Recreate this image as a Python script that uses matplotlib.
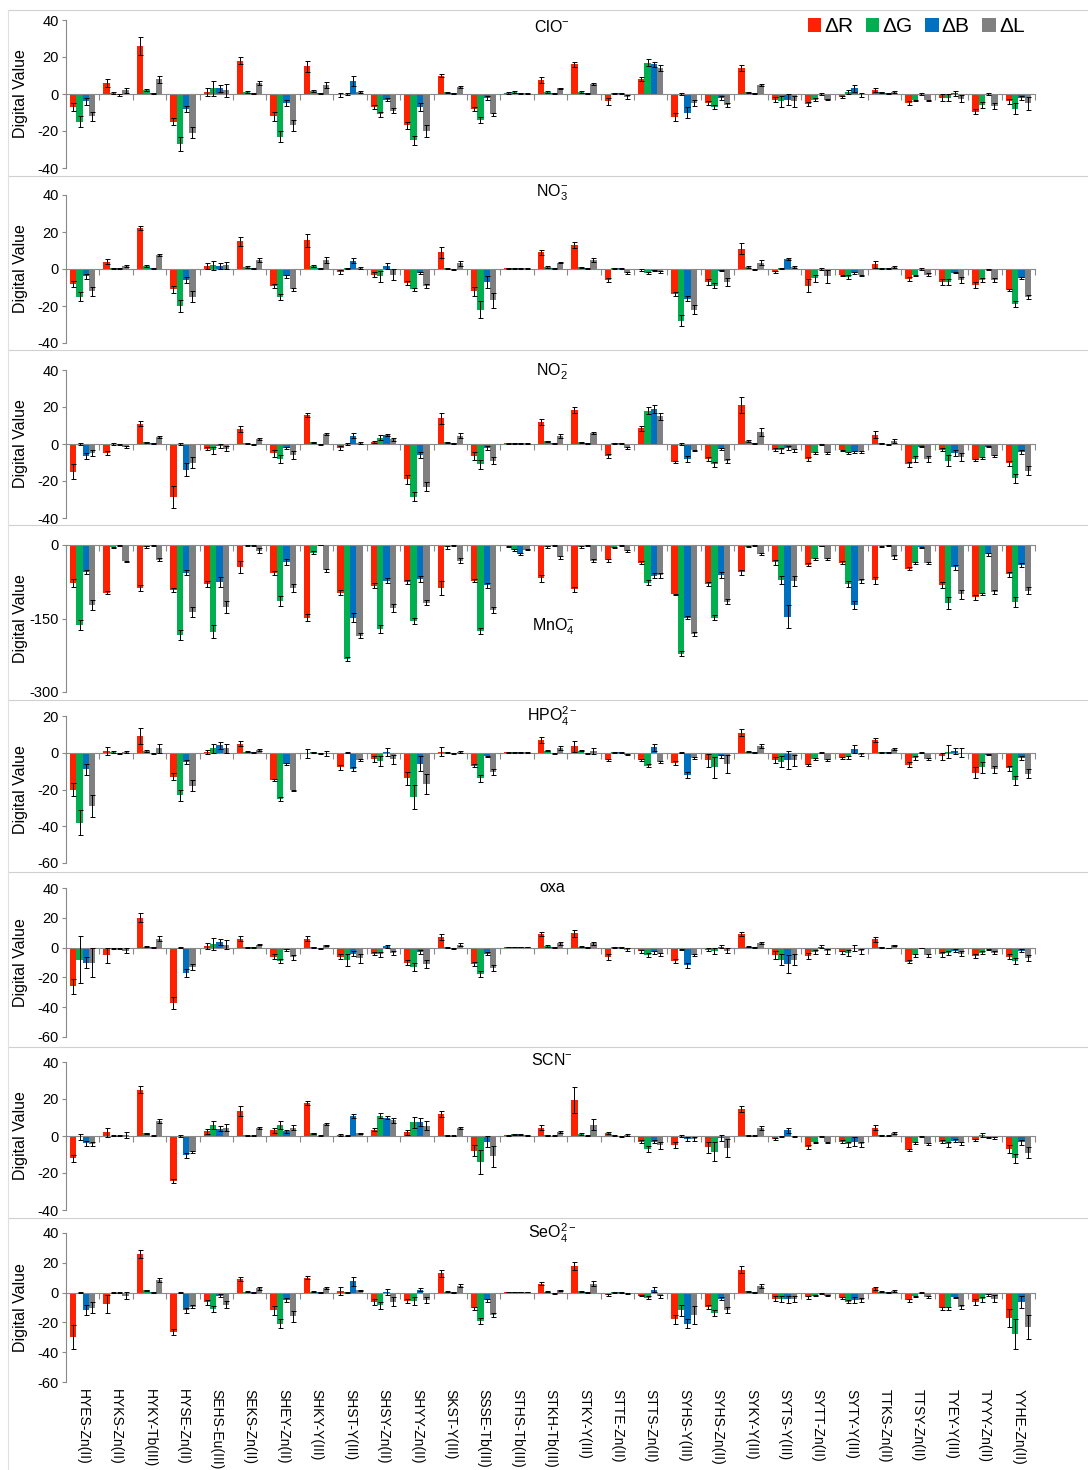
import numpy as np
import matplotlib
matplotlib.use('Agg')
import matplotlib.pyplot as plt
from matplotlib.lines import Line2D

plt.rcParams['font.family'] = ['Liberation Sans', 'DejaVu Sans']
plt.rcParams['mathtext.fontset'] = 'custom'
plt.rcParams['mathtext.rm'] = 'Liberation Sans'
plt.rcParams['mathtext.it'] = 'Liberation Sans:italic'
plt.rcParams['mathtext.default'] = 'regular'
plt.rcParams['axes.unicode_minus'] = False

sensors = ['HYES-Zn(II)', 'HYKS-Zn(II)', 'HYKY-Tb(III)', 'HYSE-Zn(II)', 'SEHS-Eu(III)',
           'SEKS-Zn(II)', 'SHEY-Zn(II)', 'SHKY-Y(III)', 'SHST-Y(III)', 'SHSY-Zn(II)',
           'SHYY-Zn(II)', 'SKST-Y(III)', 'SSSE-Tb(III)', 'STHS-Tb(III)', 'STKH-Tb(III)',
           'STKY-Y(III)', 'STTE-Zn(II)', 'STTS-Zn(II)', 'SYHS-Y(III)', 'SYHS-Zn(II)',
           'SYKY-Y(III)', 'SYTS-Y(III)', 'SYTT-Zn(II)', 'SYTY-Y(III)', 'TTKS-Zn(II)',
           'TTSY-Zn(II)', 'TYEY-Y(III)', 'TYYY-Zn(II)', 'YYHE-Zn(II)']
channels = ['ΔR', 'ΔG', 'ΔB', 'ΔL']
colors = ['#FF2200', '#00B050', '#0070C0', '#808080']

# ClO-
clo_r = [-7, 6, 26, -15, 1, 18, -12, 15, -0.5, -7, -17, 10, -8, 0.5, 7.5, 16, -4, 8, -12.5, -5, 14, -3, -5.5, -1.5, 2, -5, -2, -9.5, -4]
clo_g = [-15, 0.5, 2, -27, 3, 1, -23, 1.5, 0, -11, -25, 1, -14, 1, 1, 1, 0.3, 17, 0, -7, 1, -4, -3, 1, 1, -3.5, -2, -6, -8]
clo_b = [-4, -0.5, 0.3, -8, 3, 0.3, -5, 0.3, 7, -3, -7, 0.3, -2, 0.5, 0.3, 0.3, 0.5, 16, -10, -2, 0.3, -3, 0, 3, 0.3, 0, 0.3, 0, -2]
clo_l = [-12, 2, 8, -21, 2, 6, -17, 5, 1, -9, -20, 4, -11, 0.5, 3, 5.5, -1.5, 14, -5, -6, 5, -4, -3, -0.5, 1, -3.5, -2.5, -6.5, -5]
clo_re = [2, 2, 5, 2, 2, 2, 2.5, 3, 1, 1, 2, 1, 1, 0.5, 1.5, 1.5, 2, 1, 2, 1, 1.5, 1.5, 1, 0.5, 1, 1, 2, 1.5, 1.5]
clo_ge = [3, 0.5, 0.5, 4, 4, 0.5, 3, 0.5, 0.3, 1.5, 2.5, 0.3, 1.5, 0.5, 0.5, 0.5, 0.3, 2, 0.3, 1, 0.3, 3, 1, 1, 0.3, 0.5, 2, 1.5, 3]
clo_be = [2, 0.5, 0.3, 1.5, 2, 0.3, 1.5, 0.3, 2.5, 1, 2, 0.3, 1, 0.3, 0.3, 0.3, 0.3, 1.5, 3, 1, 0.3, 3, 0.3, 2, 0.3, 0.3, 1.5, 0.3, 1]
clo_le = [2.5, 1.5, 2, 3, 3.5, 1, 3, 1.5, 0.5, 1.5, 3, 0.5, 1, 0.3, 0.5, 0.5, 1, 1.5, 1.5, 1, 0.5, 3, 0.5, 1, 0.5, 0.5, 2, 1.5, 3.5]

# NO3-
no3_r = [-8, 4, 22, -11, 1.5, 15, -9, 15.5, -1.5, -3, -7.5, 9, -12, 0.5, 9, 13, -6, -0.5, -13.5, -7, 11, -1.5, -9, -3.5, 2.5, -5.5, -7, -8.5, -11.5]
no3_g = [-15, 0.3, 1.5, -20, 2, 1, -15, 1.5, 0.5, -4, -11, 0.5, -22, 0.5, 1, 1, 0.3, -2, -28, -9, 1, 0.5, -5, -4.5, 0.5, -3.5, -7, -6, -19]
no3_b = [-4, 0.3, 0.3, -6, 1.5, 0.3, -4, 0.3, 4.5, 1.5, -2, -0.5, -7, 0.5, 0.3, 0.3, 0.3, -1, -16, -1, -0.5, 5.5, 0, -2, 0.3, 0, -2, -0.5, -5]
no3_l = [-12, 1.5, 7.5, -15, 2, 5, -11, 5, 0.5, -3, -9, 3, -17, 0.5, 3.5, 5, -2, -1.5, -22, -7, 3.5, 1, -4, -3.5, 1, -3, -6, -6, -15]
no3_re = [1.5, 1.5, 1, 2, 1.5, 2.5, 1, 3.5, 1, 1.5, 1, 3, 2.5, 0.3, 1.5, 1.5, 1, 0.5, 1, 1.5, 3, 0.5, 3.5, 0.5, 2, 1, 1.5, 1.5, 0.5]
no3_ge = [2.5, 0.3, 0.5, 3, 2.5, 0.5, 1.5, 0.5, 0.3, 3, 1, 0.3, 4.5, 0.3, 0.5, 0.3, 0.3, 0.5, 3, 1.5, 0.5, 0.3, 2, 1, 0.3, 0.5, 1.5, 1, 1.5]
no3_be = [1.5, 0.3, 0.3, 1.5, 1.5, 0.3, 1, 0.3, 1.5, 1.5, 0.5, 0.3, 3, 0.3, 0.3, 0.3, 0.3, 0.3, 1.5, 0.3, 0.3, 0.5, 0.3, 0.5, 0.3, 0.3, 0.3, 0.3, 0.5]
no3_le = [2.5, 0.5, 0.5, 3, 2, 1, 1, 1.5, 0.5, 3, 1, 1.5, 4, 0.3, 0.5, 1, 0.5, 0.5, 2.5, 2, 1.5, 0.5, 3.5, 0.5, 0.5, 1, 1.5, 1, 1]

# NO2-
no2_r = [-15, -5, 11, -28.5, -2.5, 8, -5, 15.5, -2, 1, -19, 14, -6.5, 0.5, 12, 18.5, -6.5, 8.5, -9.5, -8, 21, -3, -8, -3.5, 5, -11, -3, -8.5, -10.5]
no2_g = [0, 0, 1, 0, -3.5, 0.3, -8, 1, 0, 3.5, -28.5, 1, -11, 0.5, 1.5, 1, 0.3, 18, 0, -11, 1.5, -3.5, -5, -5, 0.3, -8, -9, -7.5, -18.5]
no2_b = [-6.5, -0.5, 0.3, -14, -1, -0.3, -2, -0.3, 4.5, 5, -6, 0.3, -2, 0.5, 0.3, 0.3, 0.3, 19, -8, -2.5, 0.3, -2, -0.5, -4.5, -0.3, -1.5, -5, -1.5, -4.5]
no2_l = [-5, -1.5, 4, -10, -2.5, 2.5, -6, 5.5, 0.5, 2.5, -23, 4.5, -9, 0.5, 4.5, 6, -2, 15, -3.5, -9, 6.5, -3.5, -5, -4.5, 1.5, -8, -7, -6.5, -14.5]
no2_re = [4, 1, 1.5, 6, 1, 1.5, 2, 1, 1, 0.5, 2.5, 3, 2, 0.3, 1.5, 1.5, 1, 1.5, 0.5, 1, 4.5, 1, 1, 0.5, 2, 1.5, 1, 0.5, 1.5]
no2_ge = [0.3, 0.3, 0.3, 0.3, 2, 0.3, 2, 0.3, 0.3, 1.5, 2.5, 0.3, 2.5, 0.3, 0.3, 0.3, 0.3, 2, 0.3, 1.5, 0.5, 1.5, 0.5, 0.5, 0.3, 1.5, 3, 0.5, 2.5]
no2_be = [1.5, 0.3, 0.3, 3.5, 1, 0.3, 0.5, 0.3, 1.5, 0.5, 1.5, 0.3, 1, 0.3, 0.3, 0.3, 0.3, 2, 1.5, 0.5, 0.3, 1, 0.3, 0.5, 0.3, 0.3, 1.5, 0.3, 1]
no2_le = [1.5, 0.5, 0.5, 3, 1.5, 0.5, 2, 0.5, 0.5, 1, 2.5, 1.5, 2, 0.3, 1, 0.5, 0.5, 2, 0.5, 1, 2, 1, 0.5, 0.5, 1, 1.5, 2, 0.5, 2.5]

# MnO4-
mno4_r = [-78, -97, -88, -91, -80, -45, -57, -148, -97, -83, -75, -88, -73, -3, -68, -90, -31, -36, -101, -79, -56, -35, -40, -36, -72, -48, -81, -107, -60]
mno4_g = [-163, -5, -5, -183, -177, -2, -115, -16, -233, -171, -155, -5, -175, -10, -5, -5, -6, -77, -222, -148, -4, -72, -28, -80, -3, -36, -118, -100, -116]
mno4_b = [-55, -1, -1, -57, -76, -1, -35, -0.5, -148, -73, -69, -1, -82, -18, -1, -1, -1, -63, -148, -61, -1, -146, -2, -123, -1, -5, -45, -19, -41]
mno4_l = [-123, -33, -30, -137, -127, -12, -88, -52, -185, -128, -118, -32, -132, -10, -25, -32, -13, -62, -182, -116, -19, -73, -28, -74, -24, -36, -101, -95, -93]
mno4_re = [8, 3, 6, 4, 6, 12, 4, 8, 5, 5, 4, 14, 3, 1, 7, 5, 3, 3, 1, 4, 5, 5, 3, 3, 7, 3, 6, 5, 5]
mno4_ge = [10, 1, 2, 10, 13, 1, 10, 3, 4, 8, 6, 3, 6, 2, 2, 2, 1, 5, 5, 6, 1, 8, 2, 6, 1, 2, 12, 3, 10]
mno4_be = [5, 0.5, 0.5, 5, 10, 0.5, 6, 0.5, 10, 5, 6, 0.5, 5, 2, 0.5, 0.5, 0.5, 5, 4, 6, 0.5, 23, 0.5, 8, 0.5, 1, 5, 3, 4]
mno4_le = [10, 1, 3, 10, 12, 5, 8, 4, 5, 8, 5, 5, 6, 1, 3, 3, 2, 5, 4, 5, 2, 10, 2, 4, 4, 2, 10, 4, 8]

# HPO4 2-
hpo4_r = [-20, 1, 9, -13, 0.5, 5, -15, -0.3, -8, -3.5, -14, 0.5, -7, 0.3, 7, 3.5, -4, -4, -5.5, -4, 11, -4, -6.5, -3, 7, -6.5, -2, -11, -8.5]
hpo4_g = [-38, 0.5, 1, -23, 2.5, 0.5, -25, 0.2, 0, -4.5, -24, 0.2, -14, 0.3, 1, 1, 0.3, -7, 0, -8, 0.5, -5, -3.5, -2.5, 0.3, -3, 0.5, -8, -15]
hpo4_b = [-9, -0.3, -0.5, -5, 4, 0.2, -6, -0.2, -9, 0.5, -6, -0.2, -2, 0.3, -0.3, -0.3, 0.3, 3, -12, -2, 0.2, -4, 0, 2, 0.2, 0, 1, -1, -3]
hpo4_l = [-29, 0.5, 2.5, -18, 2.5, 1.5, -20.5, -0.3, -4, -3.5, -17, 0.3, -10.5, 0.3, 2.5, 1, -1, -5, -3, -6, 3.5, -4, -4, -1, 2, -3.5, 0, -9, -11.5]
hpo4_re = [3.5, 2, 4.5, 2, 1, 1.5, 0.5, 2.5, 1.5, 1.5, 3.5, 2.5, 1, 0.2, 1.5, 3, 0.5, 0.5, 1, 3.5, 2, 1.5, 0.5, 0.5, 1, 1.5, 2, 3, 1.5]
hpo4_ge = [7, 0.5, 0.5, 3, 2.5, 0.3, 1, 0.3, 0.3, 2.5, 6.5, 0.3, 2, 0.2, 0.3, 0.3, 0.3, 1, 0.3, 5.5, 0.3, 3, 0.5, 1, 0.3, 1, 3.5, 3, 2.5]
hpo4_be = [3, 0.3, 0.3, 1, 2, 0.3, 0.5, 0.3, 1, 2, 4, 0.3, 0.5, 0.2, 0.3, 0.3, 0.3, 2, 1.5, 1, 0.3, 5, 0.3, 2, 0.3, 0.3, 1.5, 0.3, 1]
hpo4_le = [6, 0.5, 2.5, 3, 2.5, 0.5, 0.5, 1.5, 0.5, 2.5, 5.5, 0.5, 1.5, 0.2, 1, 1.5, 0.3, 0.5, 0.5, 5, 1, 3, 0.5, 1, 0.5, 0.5, 2.5, 2, 2.5]

# oxalate
oxa_r = [-26, -5, 20, -37, 1, 6, -6, 6, -6, -4, -10, 7, -11, 0.3, 9, 9.5, -6, -2.5, -9, -1.5, 9, -5, -5.5, -3, 5.5, -9.5, -4.5, -5.5, -6]
oxa_g = [-8, -0.5, 0.5, 0, 2.5, 0.3, -9, 0.3, -8.5, -4.5, -13, 0.3, -18, 0.3, 1, 0.5, 0.2, -5, -1, -2.5, 0.5, -8, -3, -3.5, 0.3, -5, -3.5, -3.5, -9]
oxa_b = [-10, -0.5, 0.2, -17, 3.5, 0.2, -1.5, -0.5, -4, 1, -3, -0.5, -4, 0.3, 0.2, 0.2, 0.2, -3, -12, 0.5, 0.2, -11, 0.5, -0.5, -0.3, -0.3, -2, -1, -2]
oxa_l = [-10, -2, 6, -13, 2, 2, -6.5, 1.5, -7, -3.5, -11, 2, -14, 0.3, 3, 3, -1.5, -4.5, -5, -2, 3, -8, -2.5, -2.5, 1.5, -5, -4, -3.5, -7]
oxa_re = [5, 5, 3, 4, 2, 1.5, 1.5, 1.5, 1.5, 1, 2, 2, 1.5, 0.2, 1.5, 2.5, 2, 1, 1.5, 1, 1.5, 2.5, 2, 1, 1.5, 1, 1.5, 1.5, 1.5]
oxa_ge = [16, 0.5, 0.3, 0.3, 4, 0.3, 1.5, 0.3, 4, 1.5, 3, 0.3, 2, 0.2, 0.5, 0.3, 0.3, 1.5, 0.3, 2, 0.3, 4, 1.5, 2, 0.3, 1, 1.5, 1, 2]
oxa_be = [4, 0.3, 0.3, 2.5, 2, 0.3, 0.5, 0.3, 1.5, 1, 1.5, 0.3, 1, 0.2, 0.3, 0.3, 0.3, 1, 1.5, 1, 0.3, 6, 1, 2, 0.3, 0.3, 1, 0.3, 1]
oxa_le = [10, 1.5, 1.5, 2, 3, 0.5, 1.5, 0.5, 3, 1.5, 3, 1, 2, 0.2, 1, 1, 1, 1, 0.5, 1.5, 0.5, 4, 1.5, 1.5, 0.5, 1, 1.5, 1, 2]

# SCN-
scn_r = [-12, 2, 25, -24.5, 2.5, 13.5, 3, 18, 0.5, 3.5, 2, 12, -8, 0.5, 4.5, 19.5, 1.5, -3, -5, -6, 14.5, -1.5, -6, -3, 4.5, -7.5, -3, -2, -7]
scn_g = [-0.5, 0.2, 1.5, 0, 6, 0.3, 6, 1.5, 0.2, 11, 7.5, 0.5, -14, 1, 0.5, 1, 0.5, -7, 0, -8.5, 0.5, -0.5, -3.5, -4.5, 0.5, -4, -4.5, 0.5, -12]
scn_b = [-4, 0.2, 0.2, -10.5, 4, 0.2, 2.5, 0.2, 11, 10, 7.5, 0.2, -3, 1, 0.2, 0.2, -0.5, -3, -1.5, -1, 0.2, 3, -0.3, -3, 0.2, -0.3, -2.5, -1, -3.5]
scn_l = [-4.5, 0.5, 8, -8.5, 4.5, 4.5, 4.5, 6.5, 1.5, 8.5, 5.5, 4.5, -11, 0.5, 2, 6, 0.5, -5, -1.5, -6.5, 4.5, -0.5, -3.5, -4.5, 1.5, -4.5, -4, -1, -9]
scn_re = [2, 2.5, 2, 1, 1.5, 2.5, 1.5, 1, 0.5, 1, 1.5, 1.5, 3, 0.3, 1.5, 7, 0.5, 1, 1.5, 3, 1.5, 0.5, 1, 1, 1.5, 0.5, 1, 0.5, 2]
scn_ge = [1.5, 0.3, 0.3, 0.3, 2, 0.3, 2, 0.3, 0.3, 1.5, 3, 0.3, 6.5, 0.3, 0.3, 0.5, 0.3, 1.5, 0.3, 5, 0.3, 0.3, 0.5, 1.5, 0.3, 0.5, 1.5, 1, 2.5]
scn_be = [1.5, 0.3, 0.3, 1.5, 1.5, 0.3, 1, 0.3, 1, 1, 2, 0.3, 3, 0.3, 0.3, 0.3, 0.3, 1, 1, 1.5, 0.3, 1.5, 0.3, 2.5, 0.3, 0.3, 1, 0.3, 1.5]
scn_le = [1, 1.5, 1, 0.5, 2, 0.5, 1.5, 0.5, 0.3, 1.5, 2.5, 0.5, 5.5, 0.3, 0.5, 3, 0.5, 2, 1, 5, 1, 0.3, 0.5, 1.5, 0.5, 0.5, 1, 0.5, 3]

# SeO4 2-
seo4_r = [-30, -7.5, 26, -26.5, -6.5, 9, -12, 10, 1, -6, -5.5, 13, -10.5, 0.3, 6, 18, -1.5, -2, -18, -9.5, 15.5, -4, -3, -3.5, 3, -5, -10.5, -6, -17]
seo4_g = [0, 0, 1.5, 0, -11, 0.5, -21, 0.5, 0.2, -8.5, -5.5, 0.5, -19, 0.3, 0.5, 1, 0.3, -3.5, -12, -14, 1, -4, -2, -6, 0.5, -2.5, -10.5, -4.5, -28]
seo4_b = [-11.5, 0, 0.2, -12, -2, 0.2, -5, 0.2, 7.5, 0.5, 2, 0.2, -5, 0.3, -0.5, 0.2, 0.3, 2, -21, -4, 0.2, -4.5, -0.5, -5, 0.2, 0, -3, -1.5, -6.5]
seo4_l = [-10, -2, 8.5, -9.5, -8, 3, -16, 3, 1.5, -6, -5, 4.5, -15, 0.3, 1.5, 6, -0.5, -2.5, -15, -11.5, 4.5, -4, -2, -5, 1, -3, -9.5, -4, -23]
seo4_re = [8, 6, 2.5, 2, 1.5, 1.5, 3, 1, 2.5, 2, 1.5, 2.5, 1, 0.2, 1, 2.5, 0.5, 0.5, 3, 1.5, 2.5, 1.5, 1, 0.5, 1, 1, 1, 2, 6]
seo4_ge = [0.3, 0.3, 0.3, 0.3, 2, 0.3, 3, 0.3, 0.3, 2.5, 2.5, 0.3, 2, 0.2, 0.3, 0.3, 0.3, 1, 4, 2, 0.3, 2, 0.5, 1, 0.3, 0.5, 1, 1.5, 10]
seo4_be = [3.5, 0.3, 0.3, 1.5, 1, 0.3, 1.5, 0.3, 3, 2, 1, 0.3, 1, 0.2, 0.3, 0.3, 0.3, 1.5, 3, 1, 0.3, 2.5, 0.3, 2, 0.3, 0.3, 0.3, 0.5, 4]
seo4_le = [3.5, 2.5, 1.5, 1, 2.5, 1, 3.5, 0.5, 0.5, 3, 2, 1, 1.5, 0.2, 0.5, 1.5, 0.3, 1, 6, 2, 1.5, 2, 0.5, 1.5, 0.5, 0.5, 1.5, 2.5, 8]

panels = [
    (r'ClO$^{-}$', [clo_r, clo_g, clo_b, clo_l], [clo_re, clo_ge, clo_be, clo_le], [-40, -20, 0, 20, 40]),
    (r'NO$_3^{-}$', [no3_r, no3_g, no3_b, no3_l], [no3_re, no3_ge, no3_be, no3_le], [-40, -20, 0, 20, 40]),
    (r'NO$_2^{-}$', [no2_r, no2_g, no2_b, no2_l], [no2_re, no2_ge, no2_be, no2_le], [-40, -20, 0, 20, 40]),
    (r'MnO$_4^{-}$', [mno4_r, mno4_g, mno4_b, mno4_l], [mno4_re, mno4_ge, mno4_be, mno4_le], [-300, -150, 0]),
    (r'HPO$_4^{2-}$', [hpo4_r, hpo4_g, hpo4_b, hpo4_l], [hpo4_re, hpo4_ge, hpo4_be, hpo4_le], [-60, -40, -20, 0, 20]),
    ('oxa', [oxa_r, oxa_g, oxa_b, oxa_l], [oxa_re, oxa_ge, oxa_be, oxa_le], [-60, -40, -20, 0, 20, 40]),
    (r'SCN$^{-}$', [scn_r, scn_g, scn_b, scn_l], [scn_re, scn_ge, scn_be, scn_le], [-40, -20, 0, 20, 40]),
    (r'SeO$_4^{2-}$', [seo4_r, seo4_g, seo4_b, seo4_l], [seo4_re, seo4_ge, seo4_be, seo4_le], [-60, -40, -20, 0, 20, 40]),
]

W, H = 1088, 1470
fig = plt.figure(figsize=(W / 100, H / 100), dpi=100)

# pixel layout of each plot area (top, bottom) and of the titles
ax_top = [20, 195, 370, 545, 716, 888, 1062, 1233]
ax_bot = [168, 343, 518, 692, 863, 1037, 1210, 1382]
title_xy = [(552, 27), (552, 193), (552, 372), (553, 627), (552, 716), (552, 888), (552, 1060), (552, 1233)]
x_left, x_right = 66, 1035
axis_grey = '#898989'

x = np.arange(len(sensors))
w = 0.19
offsets = (np.arange(4) - 1.5) * w

axes = []
for k, (name, vals, errs, yt) in enumerate(panels):
    ax = fig.add_axes([x_left / W, 1 - ax_bot[k] / H, (x_right - x_left) / W, (ax_bot[k] - ax_top[k]) / H])
    axes.append(ax)
    bars = []
    for j in range(4):
        b = ax.bar(x + offsets[j], vals[j], w, color=colors[j], label=channels[j], zorder=2)
        bars.append(b)
        ax.errorbar(x + offsets[j], vals[j], yerr=errs[j], fmt='none', ecolor='black',
                    elinewidth=0.7, capsize=1.8, capthick=0.7, zorder=3)
    ax.set_xlim(-0.5, len(sensors) - 0.5)
    ax.set_ylim(yt[0], yt[-1])
    ax.set_yticks(yt)
    ax.tick_params(axis='y', labelsize=10.5, length=3, color=axis_grey, pad=2)
    ax.spines['top'].set_visible(False)
    ax.spines['right'].set_visible(False)
    ax.spines['left'].set_color(axis_grey)
    ax.spines['bottom'].set_position(('data', 0))
    ax.spines['bottom'].set_color(axis_grey)
    ax.set_xticks(np.arange(-0.5, len(sensors), 1))
    ax.tick_params(axis='x', length=4, color=axis_grey, labelbottom=False)
    ax.set_ylabel('Digital Value', fontsize=11.5)
    ax.yaxis.set_label_coords((28 - x_left) / (x_right - x_left), 0.5)
    ax.patch.set_alpha(0)
    tx, ty = title_xy[k]
    fig.text(tx / W, 1 - ty / H, name, ha='center', va='center', fontsize=11.5)

    if k == 0:
        ax.legend(bars, channels, loc='center right', ncol=4, frameon=False,
                  bbox_to_anchor=(1033 / W, 1 - 27 / H), bbox_transform=fig.transFigure,
                  fontsize=15, handlelength=0.65, handleheight=0.65, handletextpad=0.15,
                  columnspacing=0.6, borderaxespad=0)

# sensor names under the last panel
sec = axes[-1].secondary_xaxis('bottom')
sec.set_xticks(x, labels=sensors, rotation=-90, fontsize=10)
sec.tick_params(length=0, pad=5)
sec.spines['bottom'].set_visible(False)

# chart-area borders between the stacked panels
for yp in [10, 176, 350, 525, 700, 872, 1047, 1218]:
    fig.add_artist(Line2D([8 / W, 1], [1 - yp / H, 1 - yp / H], color='#D0D0D0', lw=0.8))
fig.add_artist(Line2D([8 / W, 8 / W], [1 - 10 / H, 0], color='#E0E0E0', lw=0.8))

fig.savefig('out.png', dpi=100)
plt.close(fig)
